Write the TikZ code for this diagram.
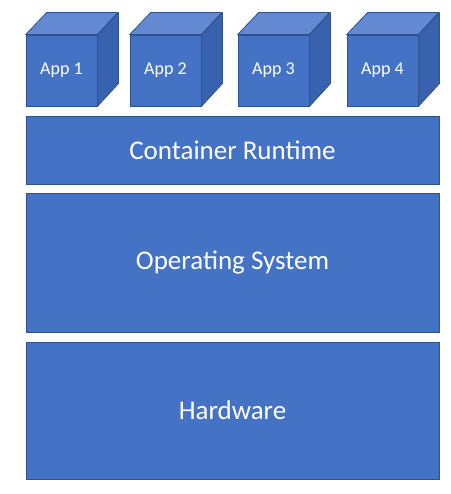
\documentclass[tikz,border=0pt]{standalone}
\usepackage{fontspec}
\setmainfont{Carlito}
\definecolor{boxblue}{HTML}{4472C4}
\definecolor{boxtop}{HTML}{6289D2}
\definecolor{boxside}{HTML}{3862AE}
\definecolor{boxline}{HTML}{2F528F}
\tikzset{
  layer/.style={draw=boxline, fill=boxblue, line width=0.8pt, minimum width=413pt, text=white, font=\fontsize{27}{30}\selectfont},
  appfront/.style={draw=boxline, fill=boxblue, line width=0.8pt, minimum width=71pt, minimum height=71pt, text=white, font=\fontsize{18}{20}\selectfont},
  appface/.style={draw=boxline, line width=0.8pt, line join=round}
}
\begin{document}
\begin{tikzpicture}[x=1pt, y=-1pt]
\useasboundingbox (0,0) rectangle (450,494);

% application cubes
\foreach \i/\cx in {1/61.5, 2/165.5, 3/273.5, 4/382.5} {
  \node[appfront] at (\cx, 70.5) (app\i) {App \i};
  \draw[appface, fill=boxtop] (app\i.north west) -- ++(21,-22) -- ++(71,0) -- (app\i.north east) -- cycle;
  \draw[appface, fill=boxside] (app\i.north east) -- ++(21,-22) -- ++(0,71) -- (app\i.south east) -- cycle;
}

% container runtime
\node[layer, minimum height=68pt] at (232.5, 150) (runtime) {Container Runtime};

% operating system
\node[layer, minimum height=139pt] at (232.5, 262.5) (os) {Operating System};

% hardware
\node[layer, minimum height=137pt] at (232.5, 410.5) (hw) {Hardware};

\end{tikzpicture}
\end{document}
